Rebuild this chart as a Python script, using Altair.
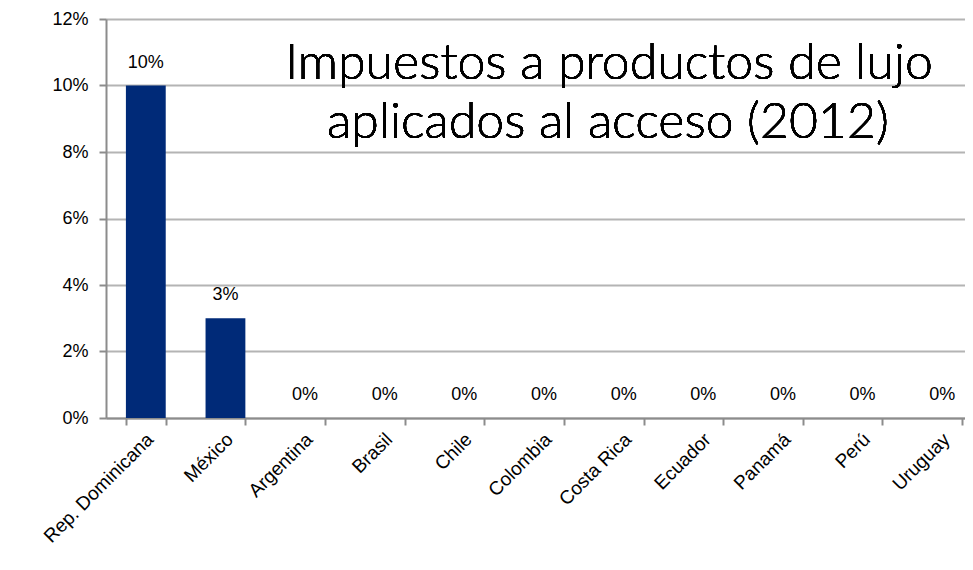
import altair as alt
import pandas as pd

countries = ["Rep. Dominicana", "México", "Argentina", "Brasil", "Chile", "Colombia",
             "Costa Rica", "Ecuador", "Panamá", "Perú", "Uruguay"]
values = [0.10, 0.03, 0, 0, 0, 0, 0, 0, 0, 0, 0]
labels = ["10%", "3%", "0%", "0%", "0%", "0%", "0%", "0%", "0%", "0%", "0%"]
title_lines = ["Impuestos a productos de lujo", "aplicados al acceso (2012)"]

df = pd.DataFrame({"pais": countries, "valor": values, "etiqueta": labels})

W = 859
H = 399
xscale = alt.Scale(domain=countries, range=[0, 876], paddingInner=0.5, paddingOuter=0.25)
yscale = alt.Scale(domain=[0, 0.12], nice=False)

base = alt.Chart(df)

bars = base.mark_bar(color="#002a78").encode(
    x=alt.X("pais:N", sort=countries, scale=xscale, title=None,
            axis=alt.Axis(labelAngle=-45, labelAlign="right", labelBaseline="middle",
                          labelFont="Liberation Sans", labelFontSize=19, labelColor="#000",
                          labelPadding=11, labelOffset=4,
                          tickBand="extent", tickSize=7, tickColor="#8c8c8c", tickWidth=2,
                          domainColor="#8c8c8c", domainWidth=2, grid=False)),
    y=alt.Y("valor:Q", scale=yscale, title=None,
            axis=alt.Axis(values=[0, 0.02, 0.04, 0.06, 0.08, 0.10, 0.12], format=".0%",
                          labelFont="Liberation Sans", labelFontSize=18, labelColor="#000",
                          labelPadding=11, tickSize=7, tickColor="#8c8c8c", tickWidth=2,
                          domainColor="#8c8c8c", domainWidth=2,
                          gridColor="#b4b4b4", gridWidth=2)),
)

text = base.mark_text(baseline="bottom", dy=-14, font="Liberation Sans", fontSize=18,
                      color="#000").encode(
    x=alt.X("pais:N", sort=countries, scale=xscale),
    y=alt.Y("valor:Q", scale=yscale),
    text="etiqueta:N",
)

title1 = alt.Chart(df).mark_text(text=title_lines[0], font="Lato", fontSize=50, fontWeight=300,
                                 color="#000", align="center", baseline="alphabetic").encode(
    x=alt.value(503), y=alt.value(60))
title2 = alt.Chart(df).mark_text(text=title_lines[1], font="Lato", fontSize=50, fontWeight=300,
                                 color="#000", align="center", baseline="alphabetic").encode(
    x=alt.value(502), y=alt.value(119))

chart = alt.layer(bars, text, title1, title2).properties(
    width=W, height=H,
    autosize=alt.AutoSizeParams(type="none"),
    padding={"left": 98, "top": 11, "right": 0, "bottom": 140},
).configure_view(stroke=None).configure(background="white")

chart.save("out.html", embed_options={"renderer": "svg", "actions": False})
